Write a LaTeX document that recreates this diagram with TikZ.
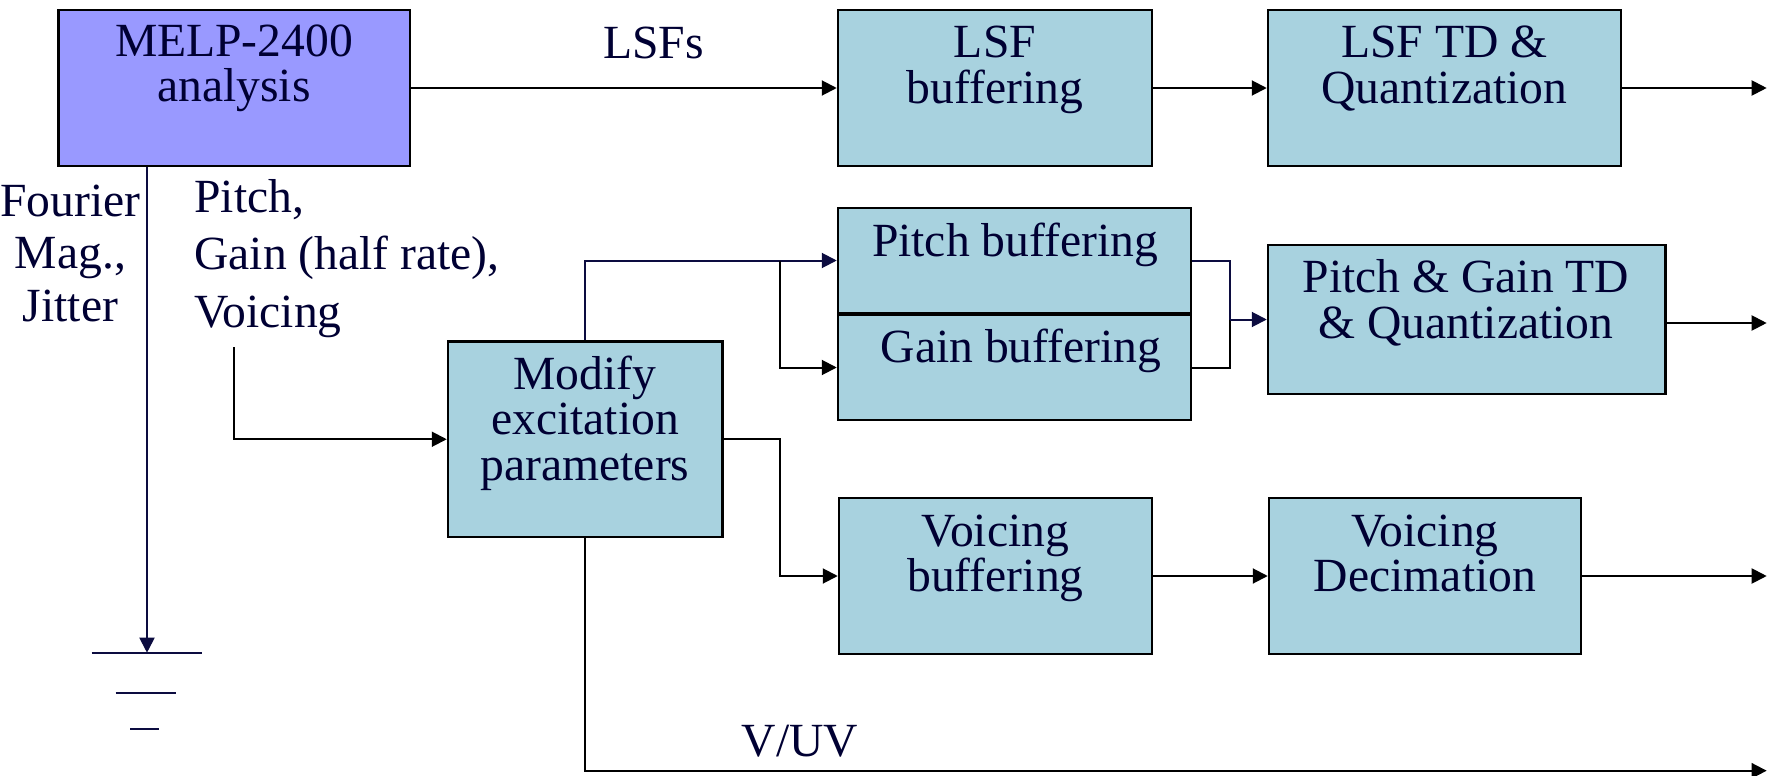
\documentclass[tikz,border=0pt]{standalone}
\usepackage{fontspec}
\setmainfont{Liberation Serif}
\usetikzlibrary{arrows.meta,fit}

\definecolor{melpfill}{HTML}{9999FF}
\definecolor{boxfill}{HTML}{A8D2DF}
\definecolor{inkcol}{HTML}{000033}
\definecolor{navyline}{HTML}{0C0C40}

\tikzset{
  blk/.style={draw=black, line width=1.25pt, fill=boxfill, inner sep=0pt, rectangle},
  txt/.style={font=\fontsize{23.8}{22.75}\selectfont, text=inkcol, inner sep=0pt, align=center},
  conn/.style={line width=1pt, draw=black},
  nconn/.style={line width=1pt, draw=navyline},
  arr/.style={-{Triangle[length=7.5pt,width=7.5pt]}},
}

\begin{document}
\begin{tikzpicture}[x=0.5pt,y=-0.5pt]
\useasboundingbox (0,0) rectangle (1769,776);

% processing blocks
\node[blk, fill=melpfill, fit={(58.5,10)(410,166)}] (melp) {};
\node[blk, fit={(838,10)(1152,166)}] (lsfb) {};
\node[blk, fit={(1268,10)(1621,166)}] (lsftd) {};
\node[blk, fit={(838,208)(1191,313)}] (pitchb) {};
\node[blk, fit={(838,315)(1191,420)}] (gainb) {};
\node[blk, fit={(1268,245)(1665.5,394)}] (pgtd) {};
\node[blk, fit={(448,341.5)(722.5,537)}] (modify) {};
\node[blk, fit={(839,498)(1152,654)}] (voicb) {};
\node[blk, fit={(1269,498)(1581,654)}] (voicd) {};

% block captions (base anchor sits on the last line)
\node[txt, anchor=base] (tmelp) at (234,101.5) {MELP-2400\\analysis};
\node[txt, anchor=base] (tlsfb) at (995,103.3) {LSF\\buffering};
\node[txt, anchor=base] (tlsftd) at (1444.5,103.3) {LSF TD \&\\Quantization};
\node[txt, anchor=base] (tpitchb) at (1015,256) {Pitch buffering};
\node[txt, anchor=base] (tgainb) at (1021,362.7) {Gain buffering};
\node[txt, anchor=base] (tpgtd) at (1466,338.3) {Pitch \& Gain TD\\\& Quantization};
\node[txt, anchor=base] (tmodify) at (585,480) {Modify\\excitation\\parameters};
\node[txt, anchor=base] (tvoicb) at (995.5,591.7) {Voicing\\buffering};
\node[txt, anchor=base] (tvoicd) at (1425,591.7) {Voicing\\Decimation};

% signal labels
\node[txt, anchor=base west] (lsfs) at (602.7,58) {LSFs};
\node[txt, anchor=base, font=\fontsize{23.8}{26.25}\selectfont] (fourier) at (70.5,321) {Fourier\\Mag.,\\Jitter};
\node[txt, anchor=base west, align=left, font=\fontsize{23.8}{28.75}\selectfont] (pgv) at (194,327) {Pitch,\\Gain (half rate),\\Voicing};
\node[txt, anchor=base] (vuv) at (800,756) {V/UV};

% helper points
\coordinate (gnd) at (147,652.7);
\coordinate (pgvfoot) at (233.5,347);
\coordinate (out1) at (1766.7,0);
\coordinate (split) at (780,0);
\coordinate (merge) at (1230,0);
\coordinate (pgout) at (1665.5,323);
\coordinate (vuvend) at (1766.7,770.7);

% LSF path
\draw[conn, arr] (melp.east) -- (lsfb.west);
\draw[conn, arr] (lsfb.east) -- (lsftd.west);
\draw[conn, arr] (lsftd.east) -- (lsftd.east -| out1);

% Fourier magnitudes and jitter to ground
\draw[nconn, arr] (melp.south -| gnd) -- (gnd);
\draw[nconn] (91.7,652.7) -- (201.7,652.7);
\draw[nconn] (115.7,693) -- (175.7,693);
\draw[nconn] (130,729.3) -- (159.3,729.3);

% excitation parameters into the modifier
\draw[conn, arr] (pgvfoot) |- (modify.west);

% pitch and gain branch
\draw[nconn, arr] (modify.north) |- (pitchb.west);
\draw[conn, arr] (pitchb.west -| split) |- (gainb.west);
\draw[nconn] (pitchb.east) -| (pgtd.west -| merge);
\draw[conn] (gainb.east) -| (pgtd.west -| merge);
\draw[nconn, arr] (pgtd.west -| merge) -- (pgtd.west);
\draw[conn, arr] (pgout) -- (pgout -| out1);

% voicing branch
\draw[conn, arr] (modify.east) -| (voicb.west -| split) -- (voicb.west);
\draw[conn, arr] (voicb.east) -- (voicd.west);
\draw[conn, arr] (voicd.east) -- (voicd.east -| out1);

% voiced / unvoiced flag
\draw[conn, arr] (modify.south) |- (vuvend);
\end{tikzpicture}
\end{document}
